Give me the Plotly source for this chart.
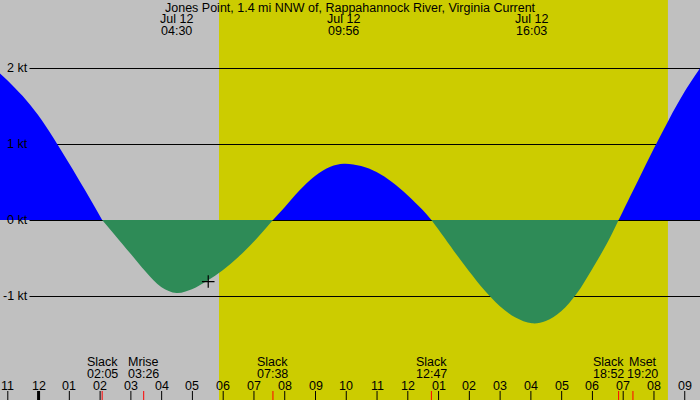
import plotly.graph_objects as go

# ---------------- data ----------------
title = "Jones Point, 1.4 mi NNW of, Rappahannock River, Virginia Current"
# time in hours after midnight Jul 12, current speed in knots
times = [-1.24, -1.0, -0.5, 0.0, 0.5, 1.0, 1.5, 2.083,
         2.5, 3.0, 3.5, 4.0, 4.5, 5.0, 5.5, 6.0, 6.5, 7.0, 7.633,
         8.0, 8.5, 9.0, 9.5, 9.933, 10.5, 11.0, 11.5, 12.0, 12.5, 12.783,
         13.0, 13.5, 14.0, 14.5, 15.0, 15.5, 16.05, 16.5, 17.0, 17.5, 18.0, 18.5, 18.867,
         19.0, 19.5, 20.0, 20.5, 21.0, 21.52]
speed = [1.93, 1.84, 1.63, 1.38, 1.08, 0.75, 0.41, 0.0,
         -0.20, -0.44, -0.68, -0.88, -0.96, -0.91, -0.80, -0.66, -0.49, -0.29, 0.0,
         0.16, 0.39, 0.58, 0.70, 0.74, 0.71, 0.63, 0.50, 0.33, 0.13, 0.0,
         -0.12, -0.40, -0.67, -0.92, -1.13, -1.28, -1.36, -1.33, -1.20, -0.97, -0.65, -0.30, 0.0,
         0.11, 0.52, 0.93, 1.32, 1.68, 2.0]

extreme_times = [4.5, 9.933, 16.05]
extreme_labels = ["04:30", "09:56", "16:03"]
date_label = "Jul 12"

event_times = [2.083, 3.433, 7.633, 12.783, 18.867, 19.333]
event_names = ["Slack", "Mrise", "Slack", "Slack", "Slack", "Mset"]
event_labels = ["02:05", "03:26", "07:38", "12:47", "18:52", "19:20"]

hour_ticks = list(range(-1, 22))
hour_labels = ["11", "12", "01", "02", "03", "04", "05", "06", "07", "08", "09", "10",
               "11", "12", "01", "02", "03", "04", "05", "06", "07", "08", "09"]

kt_levels = [2, 1, 0, -1]
kt_labels = ["2 kt", "1 kt", "0 kt", "-1 kt"]

sunrise, sunset = 5.88, 20.47
now_time, now_speed = 5.53, -0.81

# ---------------- layout constants ----------------
W, H = 700, 400
PX_PER_HR = 30.77
MID_X = 38.07          # pixel of midnight
PX_PER_KT = 76.0
ZERO_Y = 220.0         # pixel row of 0 kt
x_left = -MID_X / PX_PER_HR
x_right = (W - MID_X) / PX_PER_HR
y_top = ZERO_Y / PX_PER_KT
y_bot = -(H - ZERO_Y) / PX_PER_KT
half_px = 0.5 / PX_PER_KT

GRAY = "#c0c0c0"
YELLOW = "#cccc00"
BLUE = "#0000ff"
GREEN = "#2e8b57"
FONT = "Liberation Sans, Arial, sans-serif"
FS = 12.5

fig = go.Figure()

# split series into positive / negative segments (each bounded by slack points)
segments = []
cur = [(times[0], speed[0])]
for t, v in zip(times[1:], speed[1:]):
    cur.append((t, v))
    if v == 0.0:
        segments.append(cur)
        cur = [(t, v)]
if len(cur) > 1:
    segments.append(cur)

for seg in segments:
    xs = [p[0] for p in seg]
    ys = [p[1] for p in seg]
    col = BLUE if sum(ys) > 0 else GREEN
    fig.add_trace(go.Scatter(x=xs, y=ys, mode="lines",
                             line=dict(width=0, color=col, shape="spline", smoothing=1.0),
                             fill="tozeroy", fillcolor=col, hoverinfo="skip", showlegend=False))

# current time marker
fig.add_trace(go.Scatter(x=[now_time], y=[now_speed], mode="markers",
                         marker=dict(symbol="cross-thin", size=9, line=dict(color="black", width=1.2)),
                         hoverinfo="skip", showlegend=False))

shapes = []
shapes.append(dict(type="rect", xref="x", yref="paper", x0=sunrise, x1=sunset, y0=0, y1=1,
                   fillcolor=YELLOW, line=dict(width=0), layer="below"))
for lv in kt_levels:
    shapes.append(dict(type="line", xref="paper", yref="y", x0=29.5 / W, x1=1,
                       y0=lv - half_px, y1=lv - half_px, line=dict(color="black", width=1), layer="below"))

# bottom ticks
tick_top = (H - 391) / H
for h in hour_ticks:
    w = 3 if h == 0 else 1
    shapes.append(dict(type="line", xref="x", yref="paper", x0=h + 0.5 / PX_PER_HR, x1=h + 0.5 / PX_PER_HR,
                       y0=0, y1=tick_top, line=dict(color="black", width=w)))
for et in event_times:
    shapes.append(dict(type="line", xref="x", yref="paper", x0=et, x1=et,
                       y0=0, y1=tick_top, line=dict(color="red", width=1)))

ann = []
def txt(x, y_px, text, xref="x", xanchor="center"):
    ann.append(dict(x=x, y=1 - y_px / H, xref=xref, yref="paper", text=text, showarrow=False,
                    xanchor=xanchor, yanchor="middle", borderpad=0,
                    font=dict(family=FONT, size=FS, color="black")))

txt(0.5, 7.5, title, xref="paper")
for et, lab in zip(extreme_times, extreme_labels):
    txt(et, 19.5, date_label)
    txt(et, 31.5, lab)

# event labels with simple overlap avoidance
pos_px = [MID_X + t * PX_PER_HR for t in event_times]
min_gap = 34.0
for i in range(1, len(pos_px)):
    d = pos_px[i] - pos_px[i - 1]
    if d < min_gap:
        s = (min_gap - d) / 2
        pos_px[i - 1] -= s
        pos_px[i] += s
for p, nm, lab in zip(pos_px, event_names, event_labels):
    tx = (p - MID_X) / PX_PER_HR
    txt(tx, 362, nm)
    txt(tx, 373.5, lab)

for h, lab in zip(hour_ticks, hour_labels):
    txt(h + 0.5 / PX_PER_HR, 386, lab)

for lv, lab in zip(kt_levels, kt_labels):
    ann.append(dict(x=28.5 / W, y=lv, xref="paper", yref="y", text=lab, showarrow=False,
                    xanchor="right", yanchor="middle", borderpad=0,
                    font=dict(family=FONT, size=FS, color="black")))

fig.update_layout(
    width=W, height=H, margin=dict(l=0, r=0, t=0, b=0, pad=0),
    paper_bgcolor=GRAY, plot_bgcolor=GRAY,
    xaxis=dict(range=[x_left, x_right], visible=False, fixedrange=True),
    yaxis=dict(range=[y_bot, y_top], visible=False, fixedrange=True),
    shapes=shapes, annotations=ann, showlegend=False,
)

fig.write_html("out.html", config={"displayModeBar": False})
